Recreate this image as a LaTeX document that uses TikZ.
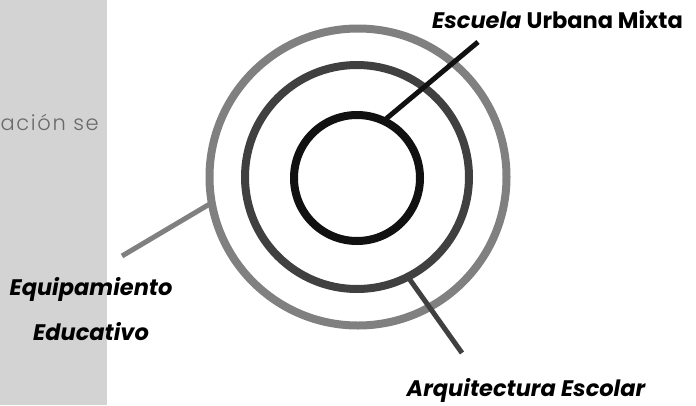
\documentclass[tikz,border=0pt]{standalone}
\usepackage{fontspec}
\setmainfont{Poppins}
\newfontfamily\lightfont{Poppins Light}[LetterSpace=8]
\definecolor{panel}{HTML}{D3D3D3}
\definecolor{ringA}{HTML}{808080}
\definecolor{ringB}{HTML}{404040}
\definecolor{ringC}{HTML}{111111}
\definecolor{txtgray}{HTML}{6A6A6A}
\tikzset{
  ring/.style={circle, draw, line width=8pt, inner sep=0pt, outer sep=0pt},
  leader/.style={line width=5pt},
  lbl/.style={inner sep=0pt, font=\bfseries\itshape\fontsize{22.5}{22.5}\selectfont, text=black}
}
\begin{document}
\begin{tikzpicture}[x=1pt,y=-1pt]
\useasboundingbox (0,0) rectangle (696,405);
\fill[panel] (0,0) rectangle (107,405);
\node[anchor=east, inner sep=0pt, text=txtgray, font=\lightfont\fontsize{21}{21}\selectfont] (frag) at (99,122) {ación se};
\node[ring, draw=ringA, minimum size=297pt] (outer) at (358,177) {};
\node[ring, draw=ringB, minimum size=224pt] (middle) at (357,177) {};
\node[ring, draw=ringC, minimum size=126pt] (inner) at (357,178) {};
\coordinate (escEnd) at (478,42);
\coordinate (equEnd) at (122,256);
\coordinate (arqEnd) at (462,353);
\draw[leader, draw=ringC] (inner.65) -- (escEnd);
\draw[leader, draw=ringA] (outer.190) -- (equEnd);
\draw[leader, draw=ringB] (middle.-63) -- (arqEnd);
\node[lbl, anchor=west] (esc) at (432,20) {\textit{Escuela} \textup{Urbana Mixta}};
\node[lbl] (equ1) at (91,289) {Equipamiento};
\node[lbl] (equ2) at (91,332) {Educativo};
\node[lbl] (arq) at (526,390) {Arquitectura Escolar};
\end{tikzpicture}
\end{document}
